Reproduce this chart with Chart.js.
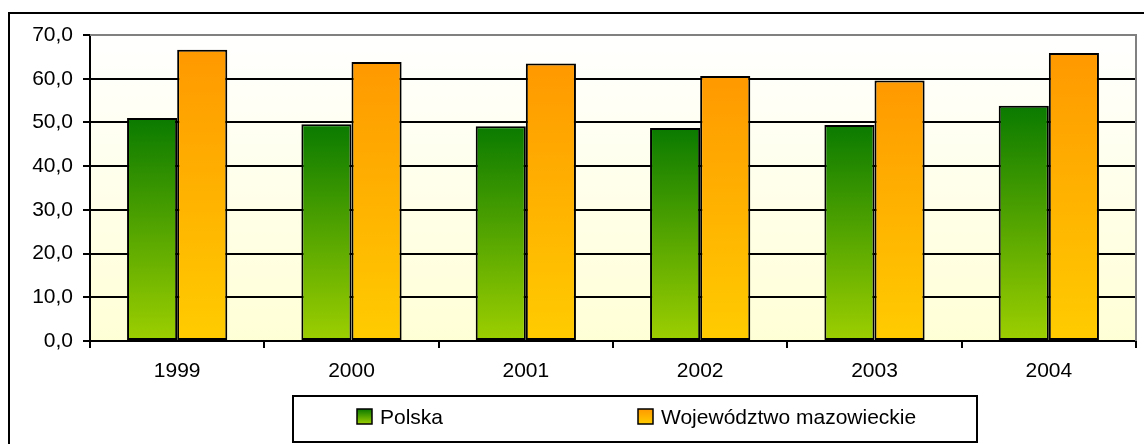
<!DOCTYPE html>
<html>
<head>
<meta charset="utf-8">
<script src="https://cdn.jsdelivr.net/npm/chart.js@4/dist/chart.umd.min.js"></script>
<style>
  html, body { margin: 0; padding: 0; background: #fff; }
  #wrap { width: 1144px; height: 444px; position: relative; }
</style>
</head>
<body>
<div id="wrap"><canvas id="graph-rate"></canvas></div>
<script>
const years = ['1999', '2000', '2001', '2002', '2003', '2004'];
const polska = [51.0, 49.6, 49.1, 48.7, 49.4, 53.8];
const mazowieckie = [66.6, 63.8, 63.5, 60.6, 59.6, 65.9];
const seriesNames = ['Polska', 'Województwo mazowieckie'];
const yMin = 0, yMax = 70, yStep = 10;

const FONT = '"Liberation Sans", Arial, sans-serif';

// per-bar vertical gradient, like the Excel fill
function barFill(topColor, bottomColor) {
  return function(c) {
    const chart = c.chart;
    const y = chart.scales.y;
    if (c.type !== 'data' || !y) return topColor;
    const y0 = y.getPixelForValue(c.raw);
    const y1 = y.getPixelForValue(0);
    if (!Number.isFinite(y0) || !Number.isFinite(y1) || y0 === y1) return topColor;
    const g = chart.ctx.createLinearGradient(0, y0, 0, y1);
    g.addColorStop(0, topColor);
    g.addColorStop(1, bottomColor);
    return g;
  };
}

const green = ['#0a7a00', '#9dcf00'];
const orange = ['#ff9900', '#ffcc00'];

const frame = {
  id: 'frame',
  beforeDraw(chart) {
    const {ctx, chartArea: a} = chart;
    const g = ctx.createLinearGradient(0, a.top, 0, a.bottom);
    g.addColorStop(0, '#ffffff');
    g.addColorStop(1, '#ffffd6');
    ctx.save();
    ctx.fillStyle = g;
    ctx.fillRect(a.left, a.top, a.right - a.left, a.bottom - a.top);
    ctx.restore();
  },
  afterDraw(chart) {
    const {ctx, chartArea: a} = chart;
    ctx.save();
    // gray top / right border of the plot
    ctx.strokeStyle = '#808080';
    ctx.lineWidth = 2;
    ctx.beginPath();
    ctx.moveTo(a.left, a.top);
    ctx.lineTo(a.right, a.top);
    ctx.lineTo(a.right, a.bottom);
    ctx.stroke();
    // outer chart box
    ctx.strokeStyle = '#000';
    ctx.lineWidth = 2;
    ctx.beginPath();
    ctx.moveTo(9, 444);
    ctx.lineTo(9, 13);
    ctx.lineTo(1144, 13);
    ctx.stroke();

    // legend
    const lx = 293, ly = 396, lw = 684, lh = 46;
    ctx.fillStyle = '#fff';
    ctx.fillRect(lx, ly, lw, lh);
    ctx.strokeRect(lx, ly, lw, lh);
    const items = [
      {x: 357, colors: green, label: seriesNames[0]},
      {x: 638, colors: orange, label: seriesNames[1]}
    ];
    ctx.font = '21px ' + FONT;
    ctx.textBaseline = 'middle';
    items.forEach(it => {
      const gg = ctx.createLinearGradient(0, 409, 0, 424);
      gg.addColorStop(0, it.colors[0]);
      gg.addColorStop(1, it.colors[1]);
      ctx.fillStyle = gg;
      ctx.fillRect(it.x, 409, 15, 15);
      ctx.lineWidth = 1.5;
      ctx.strokeStyle = '#000';
      ctx.strokeRect(it.x, 409, 15, 15);
      ctx.fillStyle = '#000';
      ctx.fillText(it.label, it.x + 23, 418);
    });
    ctx.restore();
  }
};

new Chart(document.getElementById('graph-rate'), {
  type: 'bar',
  data: {
    labels: years,
    datasets: [{
      label: seriesNames[0],
      data: polska,
      backgroundColor: barFill(green[0], green[1]),
      borderColor: '#000',
      borderWidth: 2,
      borderSkipped: false
    }, {
      label: seriesNames[1],
      data: mazowieckie,
      backgroundColor: barFill(orange[0], orange[1]),
      borderColor: '#000',
      borderWidth: 2,
      borderSkipped: false
    }]
  },
  options: {
    responsive: true,
    maintainAspectRatio: false,
    animation: false,
    datasets: {
      bar: { categoryPercentage: 0.575, barPercentage: 1.0 }
    },
    layout: { padding: { top: 35, right: 8, bottom: 53, left: 0 } },
    scales: {
      x: {
        grid: { offset: true, drawOnChartArea: false, color: '#000', lineWidth: 2, tickLength: 7 },
        border: { color: '#000', width: 2 },
        ticks: { color: '#000', font: { family: FONT, size: 21 }, padding: 11, maxRotation: 0 },
        afterFit(scale) { scale.height = 50; }
      },
      y: {
        min: yMin,
        max: yMax,
        grid: { color: '#000', lineWidth: 2, tickLength: 7 },
        border: { color: '#000', width: 2 },
        ticks: {
          stepSize: yStep,
          color: '#000',
          padding: 10,
          font: { family: FONT, size: 21 },
          callback: v => v.toFixed(1).replace('.', ',')
        },
        afterFit(scale) { scale.width = 90; }
      }
    },
    plugins: {
      legend: { display: false },
      tooltip: { enabled: false }
    }
  },
  plugins: [frame]
});
</script>
</body>
</html>
